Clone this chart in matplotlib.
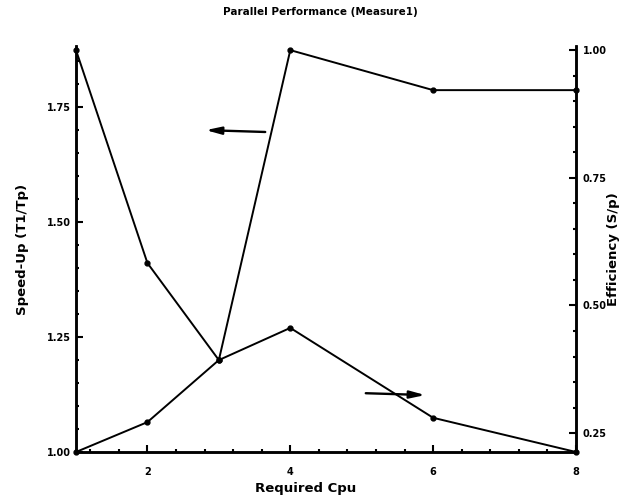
import matplotlib
matplotlib.use("Agg")
import matplotlib.pyplot as plt
from matplotlib.ticker import MultipleLocator, FixedLocator

# Measured parallel performance
cpus = [1, 2, 3, 4, 6, 8]
speedup = [1.00, 1.065, 1.20, 1.874, 1.787, 1.787]
efficiency = [1.00, 0.583, 0.393, 0.456, 0.280, 0.213]

x_ticks = [2, 4, 6, 8]
speedup_ticks = [1.00, 1.25, 1.50, 1.75]
efficiency_ticks = [0.25, 0.50, 0.75, 1.00]

plt.rcParams["font.family"] = ["DejaVu Sans"]
plt.rcParams["font.weight"] = "bold"

fig = plt.figure(figsize=(6.4, 4.98), dpi=100)
ax = fig.add_axes([76 / 640, 46 / 498, 500 / 640, 406 / 498])
ax2 = ax.twinx()

lw = 1.4
ax.plot(cpus, speedup, color="black", lw=lw, marker="o", ms=3.5, clip_on=False, zorder=3)
ax2.plot(cpus, efficiency, color="black", lw=lw, marker="o", ms=3.5, clip_on=False, zorder=3)

ax.set_xlim(1, 8)
ax.set_ylim(1.0, 1.883)
ax2.set_ylim(0.213, 1.008)

for a in (ax, ax2):
    for side in ("left", "right", "bottom"):
        a.spines[side].set_linewidth(1.8)
    a.spines["top"].set_visible(False)

ax.xaxis.set_major_locator(FixedLocator(x_ticks))
ax.xaxis.set_minor_locator(MultipleLocator(0.4))
ax.yaxis.set_major_locator(FixedLocator(speedup_ticks))
ax.yaxis.set_minor_locator(MultipleLocator(0.05))
ax2.yaxis.set_major_locator(FixedLocator(efficiency_ticks))
ax2.yaxis.set_minor_locator(MultipleLocator(0.05))

ax.set_xticklabels([str(t) for t in x_ticks])
ax.set_yticklabels([f"{t:.2f}" for t in speedup_ticks])
ax2.set_yticklabels([f"{t:.2f}" for t in efficiency_ticks])

for a in (ax, ax2):
    a.tick_params(which="major", direction="in", length=5, width=1.5, labelsize=7, pad=4)
    a.tick_params(which="minor", direction="in", length=2.5, width=1.5)
ax.tick_params(axis="x", pad=11)
ax2.tick_params(axis="y", pad=5)

ax.set_xlabel("Required Cpu", fontsize=9.5, fontweight="bold")
ax.xaxis.set_label_coords(0.46, -0.073)
ax.set_ylabel("Speed-Up (T1/Tp)", fontsize=9.5, fontweight="bold")
ax.yaxis.set_label_coords(-0.094, 0.5)
ax2.set_ylabel("Efficiency (S/p)", fontsize=9.5, fontweight="bold", rotation=90)
ax2.yaxis.set_label_coords(1.062, 0.5)
fig.text(0.5, 1 - 12 / 498, "Parallel Performance (Measure1)", fontsize=7.5,
         fontweight="bold", ha="center", va="center")

arrow = dict(arrowstyle="-|>,head_length=0.9,head_width=0.22", color="black", lw=1.7)
ax.annotate("", xy=(0.254, 0.793), xytext=(0.384, 0.788),
            xycoords="axes fraction", textcoords="axes fraction", arrowprops=arrow)
ax.annotate("", xy=(0.704, 0.140), xytext=(0.574, 0.145),
            xycoords="axes fraction", textcoords="axes fraction", arrowprops=arrow)

fig.savefig("out.png", dpi=100)
